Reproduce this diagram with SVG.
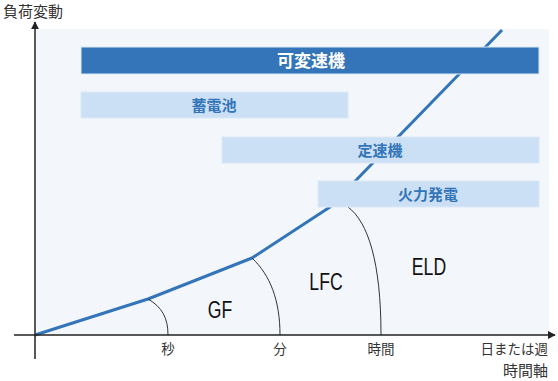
<svg xmlns="http://www.w3.org/2000/svg" width="558" height="381" viewBox="0 0 558 381">
<style>
.jp{font-family:"Noto Sans CJK JP","Noto Sans",sans-serif}
.ax{fill:#333;font-size:13.5px}
.bl{fill:#3375b8;font-size:15px;font-weight:bold;text-anchor:middle}
.en{font-family:"Liberation Sans","Roboto",sans-serif;font-size:23.5px;fill:#111;text-anchor:middle}
.lt{fill:#cce0f5;stroke:#dce9f7;stroke-width:1}
.arc{fill:none;stroke:#333;stroke-width:1}
</style>
<defs>
<marker id="ah" viewBox="0 0 10 10" refX="9" refY="5" markerWidth="8" markerHeight="8" markerUnits="userSpaceOnUse" orient="auto">
<path d="M0,0 L10,5 L0,10 z" fill="#222"/>
</marker>
</defs>
<rect id="panel" x="36" y="29" width="513" height="306" fill="#f3f6fb"/>
<g id="curve">
<polyline points="35,335 148,299 252,258 330,207 502,30" fill="none" stroke="#3375b8" stroke-width="3" stroke-linejoin="round"/>
</g>
<g id="connectors">
<path class="arc" d="M148,299 C162,307 168,318 168,335"/>
<path class="arc" d="M252,258 C270,275 280,300 280,335"/>
<path class="arc" d="M348,207 C368,222 381,262 381,335"/>
</g>
<g id="bar-kahensoku">
<rect x="81" y="47" width="458" height="27" fill="#3375b8" stroke="#dce9f7" stroke-width="1"/>
<text class="jp" x="311" y="67" fill="#fff" font-size="17" font-weight="bold" text-anchor="middle">可変速機</text>
</g>
<g id="bar-chikudenchi">
<rect class="lt" x="81" y="92" width="267" height="26"/>
<text class="jp bl" x="214" y="110.5">蓄電池</text>
</g>
<g id="bar-teisoku">
<rect class="lt" x="222" y="137" width="317" height="26"/>
<text class="jp bl" x="380" y="155.5">定速機</text>
</g>
<g id="bar-karyoku">
<rect class="lt" x="318" y="181" width="221" height="26"/>
<text class="jp bl" x="428" y="199.5">火力発電</text>
</g>
<g id="axes">
<line x1="35" y1="359" x2="35" y2="22" stroke="#222" stroke-width="1.5" marker-end="url(#ah)"/>
<line x1="14" y1="335" x2="555" y2="335" stroke="#222" stroke-width="1.5" marker-end="url(#ah)"/>
</g>
<g id="labels">
<text class="jp" x="3" y="17" font-size="15" fill="#333">負荷変動</text>
<text class="jp ax" x="168" y="354" text-anchor="middle">秒</text>
<text class="jp ax" x="280" y="354" text-anchor="middle">分</text>
<text class="jp ax" x="381" y="354" text-anchor="middle">時間</text>
<text class="jp ax" x="548" y="354" text-anchor="end">日または週</text>
<text class="jp" x="548" y="376" font-size="15" fill="#333" text-anchor="end">時間軸</text>
<text class="en" transform="translate(220,318) scale(0.75,1)">GF</text>
<text class="en" transform="translate(326,290) scale(0.75,1)">LFC</text>
<text class="en" transform="translate(429,275) scale(0.75,1)">ELD</text>
</g>
</svg>
